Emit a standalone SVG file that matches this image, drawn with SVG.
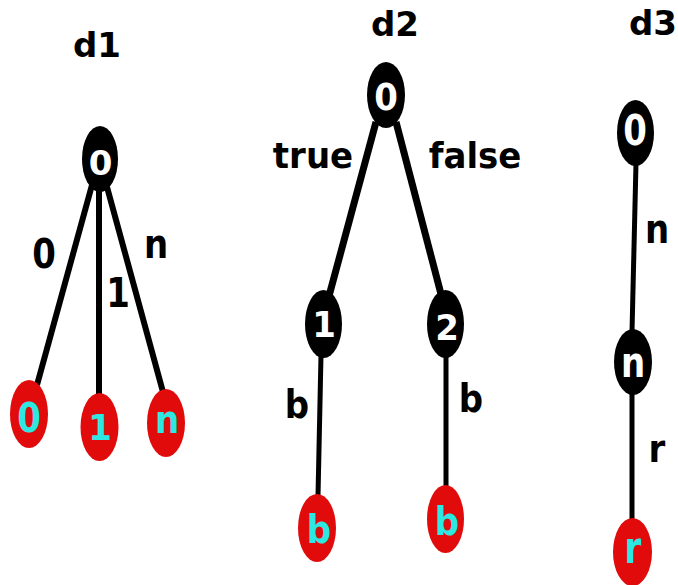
<svg xmlns="http://www.w3.org/2000/svg" width="678" height="585" viewBox="0 0 678 585">
  <style>
    text { font-family: "DejaVu Sans", "Liberation Sans", sans-serif; font-weight: bold; font-size: 34px; text-anchor: middle; }
    .title, .elabel { fill: #000; }
    .inner { fill: #fff; }
    .leaftxt { fill: #2de8e0; }
    .inode { fill: #000; }
    .leaf { fill: #e10b0b; }
    .edge { stroke: #000; stroke-width: 6; stroke-linecap: butt; fill: none; }
    .thick { stroke-width: 7; }
    .thin { stroke-width: 5; }
  </style>

  <!-- tree titles -->
  <text class="title" transform="translate(97 57)">d1</text>
  <text class="title" transform="translate(395 36)">d2</text>
  <text class="title" transform="translate(653 35)">d3</text>

  <!-- connectors with their labels -->
  <g id="edges">
    <line class="edge" x1="92" y1="185" x2="37" y2="385"/>
    <line class="edge" x1="99" y1="190" x2="99" y2="395"/>
    <line class="edge" x1="107" y1="187" x2="163" y2="392"/>
    <line class="edge thick" x1="376" y1="122" x2="329" y2="296"/>
    <line class="edge thick" x1="396" y1="122" x2="441" y2="294"/>
    <line class="edge thin" x1="321" y1="355" x2="318" y2="496"/>
    <line class="edge thin" x1="446" y1="355" x2="446" y2="487"/>
    <line class="edge thin" x1="636" y1="163" x2="632" y2="332"/>
    <line class="edge thin" x1="632" y1="393" x2="632" y2="520"/>
    <text class="elabel" transform="translate(44 268) scale(1 1.2)">0</text>
    <text class="elabel" transform="translate(118 307) scale(1 1.2)">1</text>
    <text class="elabel" transform="translate(156 258) scale(1 1.22)">n</text>
    <text class="elabel" transform="translate(313 168) scale(1 1.05)">true</text>
    <text class="elabel" transform="translate(475 168) scale(1 1.05)">false</text>
    <text class="elabel" transform="translate(297 418) scale(1 1.15)">b</text>
    <text class="elabel" transform="translate(471 412) scale(1 1.15)">b</text>
    <text class="elabel" transform="translate(657 243) scale(1 1.22)">n</text>
    <text class="elabel" transform="translate(657 462) scale(1 1.1)">r</text>
  </g>

  <!-- d1 -->
  <g id="d1-root"><ellipse class="inode" cx="100" cy="159" rx="18" ry="33"/><text class="inner" transform="translate(100.5 175)">0</text></g>
  <g id="d1-leaf0"><ellipse class="leaf" cx="29" cy="414" rx="19" ry="34"/><text class="leaftxt" transform="translate(29 432) scale(1 1.2)">0</text></g>
  <g id="d1-leaf1"><ellipse class="leaf" cx="99.5" cy="427" rx="19" ry="34"/><text class="leaftxt" transform="translate(100 440) scale(1 1.05)">1</text></g>
  <g id="d1-leafn"><ellipse class="leaf" cx="166" cy="423" rx="19" ry="34"/><text class="leaftxt" transform="translate(167 433) scale(1 1.13)">n</text></g>

  <!-- d2 -->
  <g id="d2-root"><ellipse class="inode" cx="386" cy="95" rx="19" ry="33"/><text class="inner" transform="translate(386 110) scale(1 1.08)">0</text></g>
  <g id="d2-n1"><ellipse class="inode" cx="323.5" cy="324" rx="18.5" ry="34"/><text class="inner" transform="translate(324 337) scale(1 1.05)">1</text></g>
  <g id="d2-n2"><ellipse class="inode" cx="445.5" cy="324" rx="18.5" ry="34"/><text class="inner" transform="translate(447 340) scale(1 1.05)">2</text></g>
  <g id="d2-leafb1"><ellipse class="leaf" cx="317" cy="528" rx="19" ry="34"/><text class="leaftxt" transform="translate(319 543) scale(1 1.15)">b</text></g>
  <g id="d2-leafb2"><ellipse class="leaf" cx="445.5" cy="519" rx="18.5" ry="34"/><text class="leaftxt" transform="translate(447 535) scale(1 1.15)">b</text></g>

  <!-- d3 -->
  <g id="d3-root"><ellipse class="inode" cx="635.5" cy="133" rx="18.5" ry="33"/><text class="inner" transform="translate(635 145) scale(1 1.25)">0</text></g>
  <g id="d3-n"><ellipse class="inode" cx="633" cy="362" rx="19" ry="33"/><text class="inner" transform="translate(633 377) scale(1 1.25)">n</text></g>
  <g id="d3-leafr"><ellipse class="leaf" cx="632.5" cy="552" rx="19.5" ry="34"/><text class="leaftxt" transform="translate(633 563) scale(1 1.3)">r</text></g>
</svg>
